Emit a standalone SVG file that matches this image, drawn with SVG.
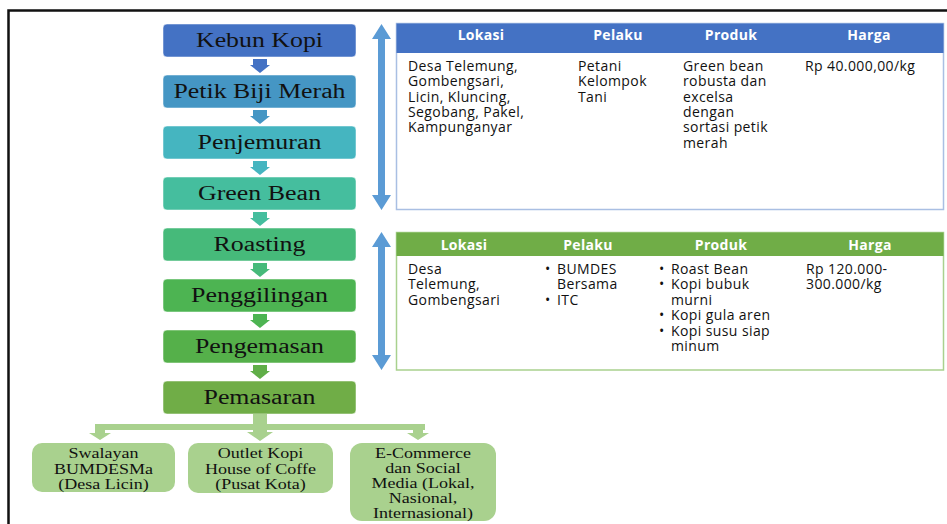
<svg xmlns="http://www.w3.org/2000/svg" width="947" height="524" viewBox="0 0 947 524">
<defs>
<style>
.lbl{font-family:"Liberation Serif","Times New Roman",serif;font-size:20px;fill:#111;text-anchor:middle}
.sub{font-family:"Liberation Serif","Times New Roman",serif;font-size:15px;fill:#111;text-anchor:middle}
.box{stroke:#ffffff;stroke-opacity:0.5;stroke-width:1}
.hd{font-family:"Open Sans","Noto Sans",sans-serif;font-size:14px;font-weight:bold;fill:#ffffff;text-anchor:middle;letter-spacing:0.3px}
.bd{font-family:"Open Sans","Noto Sans",sans-serif;font-size:14px;fill:#111;letter-spacing:0.4px}
.dbl{fill:#5B9BD5}
.mk{fill:#A9D18E}
</style>
</defs>
<rect x="0" y="0" width="947" height="524" fill="#ffffff"/>
<path d="M8.5,524 V10.5 H947" fill="none" stroke="#111" stroke-width="2.5"/>

<!-- process nodes -->
<g id="kebun-kopi"><rect class="box" x="163" y="24" width="193" height="33" rx="4" fill="#4472C4"/><text class="lbl" x="259.5" y="47" textLength="127" lengthAdjust="spacingAndGlyphs">Kebun Kopi</text></g>
<g id="petik-biji-merah"><rect class="box" x="163" y="75" width="193" height="33" rx="4" fill="#4596C4"/><text class="lbl" x="259.5" y="98" textLength="172" lengthAdjust="spacingAndGlyphs">Petik Biji Merah</text></g>
<g id="penjemuran"><rect class="box" x="163" y="126" width="193" height="33" rx="4" fill="#45B5C0"/><text class="lbl" x="259.5" y="149" textLength="124" lengthAdjust="spacingAndGlyphs">Penjemuran</text></g>
<g id="green-bean"><rect class="box" x="163" y="177" width="193" height="33" rx="4" fill="#45BE9E"/><text class="lbl" x="259.5" y="200" textLength="123" lengthAdjust="spacingAndGlyphs">Green Bean</text></g>
<g id="roasting"><rect class="box" x="163" y="228" width="193" height="33" rx="4" fill="#46BA7A"/><text class="lbl" x="259.5" y="251" textLength="92" lengthAdjust="spacingAndGlyphs">Roasting</text></g>
<g id="penggilingan"><rect class="box" x="163" y="279" width="193" height="33" rx="4" fill="#4DB452"/><text class="lbl" x="259.5" y="302" textLength="137" lengthAdjust="spacingAndGlyphs">Penggilingan</text></g>
<g id="pengemasan"><rect class="box" x="163" y="330" width="193" height="33" rx="4" fill="#55B04A"/><text class="lbl" x="259.5" y="353" textLength="129" lengthAdjust="spacingAndGlyphs">Pengemasan</text></g>
<g id="pemasaran"><rect class="box" x="163" y="381" width="193" height="33" rx="4" fill="#70AD47"/><text class="lbl" x="259.5" y="404" textLength="112" lengthAdjust="spacingAndGlyphs">Pemasaran</text></g>

<!-- marketing outlets -->
<g id="swalayan"><rect x="32" y="443" width="143" height="49" rx="10" fill="#A9D18E"/>
<text class="sub" x="103.5" y="458" textLength="70" lengthAdjust="spacingAndGlyphs">Swalayan</text>
<text class="sub" x="103.5" y="474" textLength="99" lengthAdjust="spacingAndGlyphs">BUMDESMa</text>
<text class="sub" x="103.5" y="489" textLength="90.5" lengthAdjust="spacingAndGlyphs">(Desa Licin)</text></g>
<g id="outlet"><rect x="188" y="443" width="145" height="50" rx="10" fill="#A9D18E"/>
<text class="sub" x="260.5" y="458" textLength="85.5" lengthAdjust="spacingAndGlyphs">Outlet Kopi</text>
<text class="sub" x="260.5" y="474" textLength="111" lengthAdjust="spacingAndGlyphs">House of Coffe</text>
<text class="sub" x="260.5" y="489" textLength="90.5" lengthAdjust="spacingAndGlyphs">(Pusat Kota)</text></g>
<g id="ecommerce"><rect x="350" y="443" width="146" height="78" rx="12" fill="#A9D18E"/>
<text class="sub" x="423" y="458" textLength="96" lengthAdjust="spacingAndGlyphs">E-Commerce</text>
<text class="sub" x="423" y="473" textLength="75.5" lengthAdjust="spacingAndGlyphs">dan Social</text>
<text class="sub" x="423" y="488" textLength="103" lengthAdjust="spacingAndGlyphs">Media (Lokal,</text>
<text class="sub" x="423" y="503" textLength="68.5" lengthAdjust="spacingAndGlyphs">Nasional,</text>
<text class="sub" x="423" y="518" textLength="100" lengthAdjust="spacingAndGlyphs">Internasional)</text></g>

<!-- table 1 -->
<g id="table-hulu">
<rect x="396.5" y="23.5" width="547" height="186" fill="#ffffff" stroke="#A9BFE3" stroke-width="1.5"/>
<rect x="396.5" y="23.5" width="547" height="29.5" fill="#4472C4"/>
<text class="hd" x="481" y="40">Lokasi</text>
<text class="hd" x="618" y="40">Pelaku</text>
<text class="hd" x="731" y="40">Produk</text>
<text class="hd" x="869" y="40">Harga</text>
<text class="bd"><tspan x="408" y="71">Desa Telemung,</tspan><tspan x="408" y="86">Gombengsari,</tspan><tspan x="408" y="102">Licin, Kluncing,</tspan><tspan x="408" y="117">Segobang, Pakel,</tspan><tspan x="408" y="132">Kampunganyar</tspan></text>
<text class="bd"><tspan x="578" y="71">Petani</tspan><tspan x="578" y="86">Kelompok</tspan><tspan x="578" y="102">Tani</tspan></text>
<text class="bd"><tspan x="683" y="71">Green bean</tspan><tspan x="683" y="86">robusta dan</tspan><tspan x="683" y="102">excelsa</tspan><tspan x="683" y="117">dengan</tspan><tspan x="683" y="132">sortasi petik</tspan><tspan x="683" y="148">merah</tspan></text>
<text class="bd" x="805" y="71">Rp 40.000,00/kg</text>
</g>

<!-- table 2 -->
<g id="table-hilir">
<rect x="396.5" y="232.5" width="547" height="137.5" fill="#ffffff" stroke="#A9D18E" stroke-width="1.5"/>
<rect x="396.5" y="232.5" width="547" height="23.5" fill="#70AD47"/>
<text class="hd" x="464" y="250">Lokasi</text>
<text class="hd" x="588" y="250">Pelaku</text>
<text class="hd" x="721" y="250">Produk</text>
<text class="hd" x="870" y="250">Harga</text>
<text class="bd"><tspan x="408" y="274">Desa</tspan><tspan x="408" y="289">Telemung,</tspan><tspan x="408" y="305">Gombengsari</tspan></text>
<text class="bd" x="545" y="274">•</text>
<text class="bd" x="545" y="305">•</text>
<text class="bd"><tspan x="557" y="274">BUMDES</tspan><tspan x="557" y="289">Bersama</tspan><tspan x="557" y="305">ITC</tspan></text>
<text class="bd" x="659" y="274">•</text>
<text class="bd" x="659" y="289">•</text>
<text class="bd" x="659" y="320">•</text>
<text class="bd" x="659" y="336">•</text>
<text class="bd"><tspan x="671" y="274">Roast Bean</tspan><tspan x="671" y="289">Kopi bubuk</tspan><tspan x="671" y="305">murni</tspan><tspan x="671" y="320">Kopi gula aren</tspan><tspan x="671" y="336">Kopi susu siap</tspan><tspan x="671" y="351">minum</tspan></text>
<text class="bd"><tspan x="806" y="274">Rp 120.000-</tspan><tspan x="806" y="289">300.000/kg</tspan></text>
</g>

<!-- connectors -->
<g id="connectors">
<path d="M253,59 h14 v6 h3 l-10,8 l-10,-8 h3 z" fill="#4472C4"/>
<path d="M253,110 h14 v6 h3 l-10,8 l-10,-8 h3 z" fill="#4596C4"/>
<path d="M253,161 h14 v6 h3 l-10,8 l-10,-8 h3 z" fill="#45B5C0"/>
<path d="M253,212 h14 v6 h3 l-10,8 l-10,-8 h3 z" fill="#45BE9E"/>
<path d="M253,263 h14 v6 h3 l-10,8 l-10,-8 h3 z" fill="#46BA7A"/>
<path d="M253,314 h14 v6 h3 l-10,8 l-10,-8 h3 z" fill="#4DB452"/>
<path d="M253,365 h14 v6 h3 l-10,8 l-10,-8 h3 z" fill="#60AE48"/>
<rect class="mk" x="95" y="424" width="330" height="6"/>
<path class="mk" d="M253,414 h14 v18 h6 l-13,9 l-13,-9 h6 z"/>
<path class="mk" d="M95,430 h10 v3 h6 l-11,7 l-11,-7 h6 z"/>
<path class="mk" d="M413,430 h10 v3 h6 l-11,7 l-11,-7 h6 z"/>
<path class="dbl" d="M381.5,24 L391,39 L385,39 L385,195 L391,195 L381.5,210 L372,195 L378,195 L378,39 L372,39 Z"/>
<path class="dbl" d="M381.5,232 L391,247 L385,247 L385,355 L391,355 L381.5,370 L372,355 L378,355 L378,247 L372,247 Z"/>
</g>
</svg>
